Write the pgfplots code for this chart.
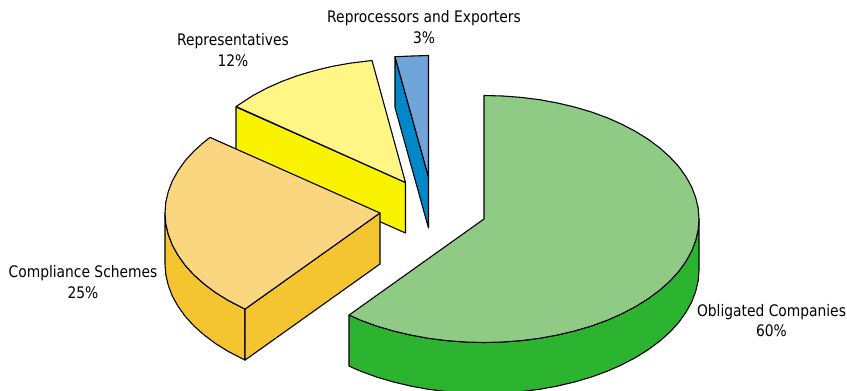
\documentclass[border=0pt]{standalone}
\usepackage{pgfplots}
\pgfplotsset{compat=1.18}
\usepackage{fontspec}
\setmainfont{DejaVu Sans}[FakeStretch=0.87]
\definecolor{greenTop}{HTML}{90CB86}
\definecolor{greenSide}{HTML}{2CB431}
\definecolor{orangeTop}{HTML}{FAD681}
\definecolor{orangeSide}{HTML}{F5C431}
\definecolor{yellowTop}{HTML}{FFF685}
\definecolor{yellowSide}{HTML}{F9F200}
\definecolor{blueTop}{HTML}{6FA5D8}
\definecolor{blueSide}{HTML}{0088C8}
\tikzset{lbl/.style={align=center, font=\fontsize{15.9}{20.8}\selectfont, text=black, inner sep=0pt}}
\begin{document}
\begin{tikzpicture}
\path[use as bounding box] (0,0) rectangle (847pt,391pt);
\begin{axis}[
  at={(0,0)}, anchor=south west,
  scale only axis, width=847pt, height=391pt,
  xmin=0, xmax=847, ymin=0, ymax=391, y dir=reverse,
  hide axis, clip=true,
  every axis plot/.append style={draw=black, line width=1.1pt, line join=round, mark=none},
]
% Representatives (12%)
\addplot[fill=yellowSide] coordinates {(236,107)(405.5,182.5)(405.5,233)(236,158)} -- cycle;
\addplot[fill=yellowTop] coordinates {
  (405.5,182.5)(236.1,106.5)(253.5,95.2)(267.3,87.9)(282.2,81.3)(298,75.5)
  (314.6,70.6)(332,66.4)(349.9,63.2)(372,60.5)} -- cycle;
% Reprocessors and Exporters (3%)
\addplot[fill=blueSide] coordinates {(395,56.7)(428.5,177)(428.5,228)(395,107.5)} -- cycle;
\addplot[fill=blueTop] coordinates {(428.5,177)(395,56.7)(412,56)(428.5,55.5)} -- cycle;
% Compliance Schemes (25%)
\addplot[fill=orangeSide] coordinates {
  (245,309.1)(228,300.3)(215.3,292.4)(203.9,283.8)(193.8,274.8)(185.1,265.2)(178,255.2)
  (172.3,245)(168.3,234.4)(165.8,223.8)(165,213)
  (165,264)(165.8,274.8)(168.3,285.4)(172.3,296)(178,306.2)(185.1,316.2)(193.8,325.8)
  (203.9,334.8)(215.3,343.4)(228,351.3)(245,360.1)} -- cycle;
\addplot[fill=orangeSide] coordinates {(245,309.1)(380,213)(380,264)(245,360.1)} -- cycle;
\addplot[fill=orangeTop] coordinates {
  (380,213)(245,309.1)(228,300.3)(215.3,292.4)(203.9,283.8)(193.8,274.8)(185.1,265.2)
  (178,255.2)(172.3,245)(168.3,234.4)(165.8,223.8)(165,213)(165.8,202.2)(168.3,191.6)
  (172.3,181)(178,170.8)(185.1,160.8)(193.8,151.3)(203.9,142.2)(210,137.4)} -- cycle;
% Obligated Companies (60%)
\addplot[fill=greenSide] coordinates {
  (699,219)(698.2,229.8)(695.7,240.4)(691.7,251)(686,261.2)(678.9,271.2)(670.2,280.8)
  (660.1,289.8)(648.7,298.4)(636,306.3)(622.2,313.6)(607.3,320.2)(591.5,326)(574.9,330.9)
  (557.5,335)(539.6,338.3)(521.3,340.6)(502.7,342)(484,342.5)(465.3,342)(446.7,340.6)
  (428.4,338.3)(410.5,335)(393.1,330.9)(376.5,326)(360.7,320.2)(349,315.1)
  (349,366.1)(360.7,371.2)(376.5,377)(393.1,381.9)(410.5,386)(428.4,389.3)(446.7,391.6)
  (465.3,393)(484,393.5)(502.7,393)(521.3,391.6)(539.6,389.3)(557.5,386)(574.9,381.9)
  (591.5,377)(607.3,371.2)(622.2,364.6)(636,357.3)(648.7,349.4)(660.1,340.8)(670.2,331.8)
  (678.9,322.2)(686,312.2)(691.7,302)(695.7,291.4)(698.2,280.8)(699,270)} -- cycle;
\addplot[fill=greenTop] coordinates {
  (484,219)(484,95.5)(502.7,96)(521.3,97.4)(539.6,99.7)(557.5,103)(574.9,107.1)(591.5,112)
  (607.3,117.8)(622.2,124.4)(636,131.7)(648.7,139.6)(660.1,148.2)(670.2,157.3)(678.9,166.8)
  (686,176.8)(691.7,187)(695.7,197.6)(698.2,208.2)
  (699,219)(698.2,229.8)(695.7,240.4)(691.7,251)(686,261.2)(678.9,271.2)(670.2,280.8)
  (660.1,289.8)(648.7,298.4)(636,306.3)(622.2,313.6)(607.3,320.2)(591.5,326)(574.9,330.9)
  (557.5,335)(539.6,338.3)(521.3,340.6)(502.7,342)(484,342.5)(465.3,342)(446.7,340.6)
  (428.4,338.3)(410.5,335)(393.1,330.9)(376.5,326)(360.7,320.2)(349,315.1)} -- cycle;
% Slice labels
\node[lbl] at (axis cs:424,27) {Reprocessors and Exporters\\3\%};
\node[lbl] at (axis cs:233,50) {Representatives\\12\%};
\node[lbl] at (axis cs:83,282) {Compliance Schemes\\25\%};
\node[lbl] at (axis cs:771.5,320.5) {Obligated Companies\\60\%};
\end{axis}
\end{tikzpicture}
\end{document}
